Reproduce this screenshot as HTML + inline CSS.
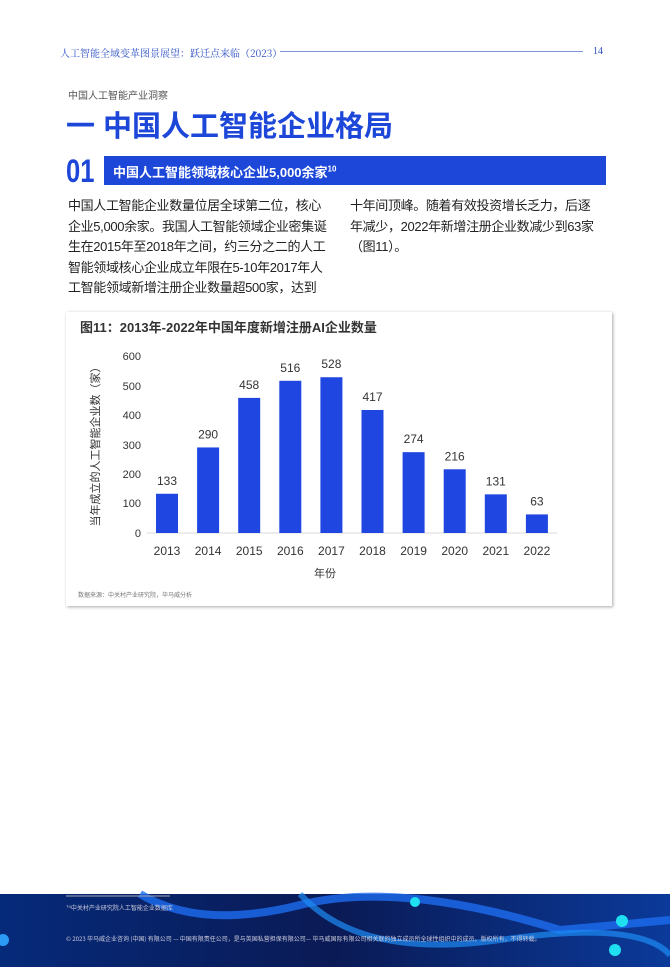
<!DOCTYPE html>
<html><head><meta charset="utf-8"><style>
body{margin:0;width:670px;height:967px;position:relative;background:#fff;font-family:"Liberation Sans","Noto Sans CJK SC",sans-serif;overflow:hidden}
.a{position:absolute;white-space:nowrap}
</style></head><body>
<div class="a" style="left:60px;top:45px;font-size:10px;color:#2b4fc4;font-family:'Noto Serif CJK SC',serif">人工智能全域变革图景展望：跃迁点来临（2023）</div>
<div class="a" style="left:280px;top:51px;width:303px;height:1px;background:#7f95d8"></div>
<div class="a" style="left:593px;top:46px;font-size:10px;color:#2b4fc4;font-family:'Liberation Serif',serif">14</div>
<div class="a" style="left:68px;top:87px;font-size:10px;color:#555">中国人工智能产业洞察</div>
<div class="a" style="left:66px;top:103px;font-size:29px;font-weight:bold;color:#1d47d8">一 中国人工智能企业格局</div>
<div class="a" style="left:66px;top:153px;font-size:32px;font-weight:bold;color:#1d47d8;transform:scaleX(0.8);transform-origin:left">01</div>
<div class="a" style="left:104px;top:156px;width:502px;height:29px;background:#1d47d8"></div>
<div class="a" style="left:113px;top:162px;font-size:13px;font-weight:bold;color:#fff">中国人工智能领域核心企业5,000余家<sup style="font-size:8px">10</sup></div>
<div class="a" style="left:68px;top:196px;font-size:13px;line-height:20.5px;color:#222;letter-spacing:-0.35px">中国人工智能企业数量位居全球第二位，核心<br>企业5,000余家。我国人工智能领域企业密集诞<br>生在2015年至2018年之间，约三分之二的人工<br>智能领域核心企业成立年限在5-10年2017年人<br>工智能领域新增注册企业数量超500家，达到</div>
<div class="a" style="left:350px;top:196px;font-size:13px;line-height:20.5px;color:#222;letter-spacing:-0.35px">十年间顶峰。随着有效投资增长乏力，后逐<br>年减少，2022年新增注册企业数减少到63家<br>（图11）。</div>
<div class="a" style="left:66px;top:312px;width:546px;height:294px;background:#fff;box-shadow:1px 1px 3px rgba(0,0,0,0.35)"></div>
<div class="a" style="left:80px;top:317px;font-size:13px;font-weight:bold;color:#333">图11：2013年-2022年中国年度新增注册AI企业数量</div>
<svg class="a" style="left:0;top:0" width="670" height="967">
<g font-family="Liberation Sans,Noto Sans CJK SC,sans-serif" font-size="11" fill="#333">
<g text-anchor="end">
<text x="141" y="360">600</text><text x="141" y="390">500</text><text x="141" y="419">400</text><text x="141" y="449">300</text><text x="141" y="478">200</text><text x="141" y="507">100</text><text x="141" y="537">0</text>
</g>
<line x1="147" y1="533" x2="557" y2="533" stroke="#d9d9d9"/>
<g fill="#1f46e0" id="b"></g>
<g id="l" text-anchor="middle" font-size="12"></g>
<text x="325" y="577" text-anchor="middle" font-size="11">年份</text>
<text transform="translate(99,444) rotate(-90)" text-anchor="middle" font-size="11">当年成立的人工智能企业数（家）</text>
</g>
<text x="78" y="597" font-size="6" fill="#777" font-family="Noto Sans CJK SC,sans-serif">数据来源：中关村产业研究院，毕马威分析</text>
<defs><linearGradient id="g" x1="0" x2="1"><stop offset="0" stop-color="#062a7a"/><stop offset="0.5" stop-color="#0a1a55"/><stop offset="1" stop-color="#0b3a9a"/></linearGradient></defs>
<rect x="0" y="894" width="670" height="73" fill="url(#g)"/>
<path d="M140 894 Q200 930 300 905 T560 930 L670 920" stroke="#1d6df0" stroke-width="8" fill="none" opacity="0.8"/>
<path d="M300 894 Q360 960 500 940 T670 955" stroke="#1d8cf5" stroke-width="6" fill="none" opacity="0.7"/>
<circle cx="415" cy="902" r="5" fill="#1ee0f0"/><circle cx="622" cy="921" r="6" fill="#1ee0f0"/><circle cx="615" cy="950" r="6" fill="#1ee0f0"/><circle cx="3" cy="940" r="6" fill="#2a9af5"/>
<line x1="66" y1="896" x2="170" y2="896" stroke="#aab" stroke-width="1"/>
<text x="66" y="910" font-size="6" fill="#ccd" font-family="Noto Sans CJK SC,sans-serif">¹⁰中关村产业研究院人工智能企业数据库</text>
<text x="66" y="941" font-size="6" fill="#ccd" font-family="Noto Sans CJK SC,sans-serif">© 2023 毕马威企业咨询 (中国) 有限公司 — 中国有限责任公司，是与英国私营担保有限公司— 毕马威国际有限公司相关联的独立成员所全球性组织中的成员。版权所有，不得转载。</text>
</svg>
<script>
var v=[133,290,458,516,528,417,274,216,131,63],b='',l='';
for(var i=0;i<10;i++){var cx=167+i*41.1,h=v[i]*177/600;
b+='<rect x="'+(cx-11)+'" y="'+(533-h)+'" width="22" height="'+h+'"/>';
l+='<text x="'+cx+'" y="'+(533-h-9)+'">'+v[i]+'</text><text x="'+cx+'" y="555">'+(2013+i)+'</text>';}
document.getElementById('b').innerHTML=b;document.getElementById('l').innerHTML=l;
</script>
</body></html>
